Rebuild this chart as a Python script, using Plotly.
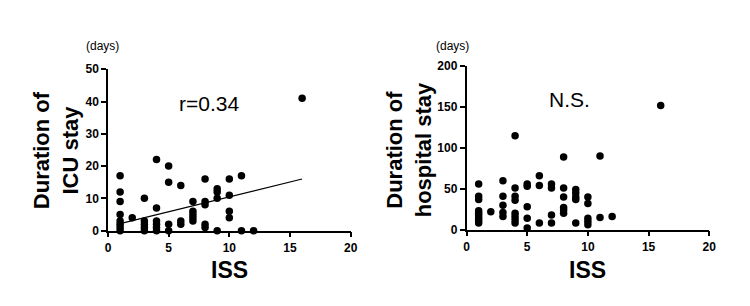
import plotly.graph_objects as go

# ICU stay (left panel)
icu_iss = [1, 1, 1, 1, 1, 1, 1, 1,
           2,
           3, 3, 3, 3, 3,
           4, 4, 4, 4, 4, 4,
           5, 5, 5, 5,
           6, 6, 6,
           7, 7, 7, 7, 7,
           8, 8, 8, 8, 8,
           9, 9, 9, 9,
           10, 10, 10, 10,
           11, 11,
           12,
           16]
icu_days = [17, 12, 9, 5, 3, 2, 1, 0,
            4,
            10, 3, 2, 1, 0,
            22, 7, 3, 2, 1, 0,
            20, 15, 2, 0,
            14, 3, 2,
            9, 6, 5, 4, 3,
            16, 9, 8, 2, 1,
            13, 12, 10, 0,
            16, 11, 6, 4,
            17, 0,
            0,
            41]
fit_x = [1, 16]
fit_y = [2.2, 16.0]

# Hospital stay (right panel)
hosp_iss = [1, 1, 1, 1, 1, 1, 1, 1, 1,
            2,
            3, 3, 3, 3, 3,
            4, 4, 4, 4, 4, 4, 4, 4,
            5, 5, 5, 5, 5,
            6, 6, 6,
            7, 7, 7, 7,
            8, 8, 8, 8, 8, 8,
            9, 9, 9, 9, 9,
            10, 10, 10, 10, 10,
            11, 11,
            12,
            16]
hosp_days = [56, 41, 37, 23, 20, 17, 14, 11, 8,
             22,
             60, 41, 30, 21, 16,
             115, 51, 41, 36, 20, 16, 12, 8,
             56, 53, 28, 14, 2,
             66, 54, 8,
             56, 51, 18, 8,
             89, 51, 40, 27, 24, 20,
             49, 45, 40, 37, 8,
             40, 32, 14, 10, 6,
             90, 15,
             16,
             152]

x_ticks = [0, 5, 10, 15, 20]
icu_ticks = [0, 10, 20, 30, 40, 50]
hosp_ticks = [0, 50, 100, 150, 200]

FONT = "Liberation Sans, Arial, sans-serif"

W, H = 750, 306
# empirical page-to-figure calibration
X0, XS = 8.5, 744.0
Y0, YS = 14.6, 293.0


def pxx(x):
    return (x - X0) / XS


def pxy(y):
    return 1 - (y - Y0) / YS


def bold(vals):
    return ["<b>%s</b>" % v for v in vals]


fig = go.Figure()
mk = dict(color="black", size=7.5)
fig.add_trace(go.Scatter(x=icu_iss, y=icu_days, mode="markers", marker=mk,
                         xaxis="x", yaxis="y", cliponaxis=False))
fig.add_trace(go.Scatter(x=fit_x, y=fit_y, mode="lines",
                         line=dict(color="black", width=1.2),
                         xaxis="x", yaxis="y"))
fig.add_trace(go.Scatter(x=hosp_iss, y=hosp_days, mode="markers", marker=mk,
                         xaxis="x2", yaxis="y2", cliponaxis=False))

ax_common = dict(showgrid=False, zeroline=False, showline=True, linecolor="black",
                 linewidth=1.5, ticks="outside", ticklen=5, tickwidth=1.5,
                 tickcolor="black",
                 tickfont=dict(family=FONT, size=12, color="black"))

ydom_l = [pxy(231), pxy(69)]
ydom_r = [pxy(230), pxy(66)]
fig.update_layout(
    width=W, height=H,
    margin=dict(l=0, r=0, t=0, b=0),
    paper_bgcolor="white", plot_bgcolor="white",
    showlegend=False,
    xaxis=dict(domain=[pxx(106), pxx(350)], range=[0, 20], tickvals=x_ticks,
               ticktext=bold(x_ticks), anchor="y", **ax_common),
    yaxis=dict(domain=ydom_l, range=[0, 50], tickvals=icu_ticks,
               ticktext=bold(icu_ticks), anchor="x", **ax_common),
    xaxis2=dict(domain=[pxx(466.5), pxx(710.5)], range=[0, 20], tickvals=x_ticks,
                ticktext=bold(x_ticks), anchor="y2", **ax_common),
    yaxis2=dict(domain=ydom_r, range=[0, 200], tickvals=hosp_ticks,
                ticktext=bold(hosp_ticks), anchor="x2", **ax_common),
)


def ann(text, x, y, size, angle=0):
    fig.add_annotation(text=text, x=pxx(x), y=pxy(y), xref="paper", yref="paper",
                       showarrow=False, textangle=angle,
                       font=dict(family=FONT, size=size, color="black"),
                       xanchor="center", yanchor="middle")


ann("(days)", 100, 46, 12)
ann("(days)", 452, 46, 12)
ann("<b>Duration of<br>ICU stay</b>", 54, 150, 22, angle=-90)
ann("<b>Duration of<br>hospital stay</b>", 409, 150, 22, angle=-90)
ann("<b>ISS</b>", 228, 270, 23)
ann("<b>ISS</b>", 588, 270, 23)
ann("r=0.34", 208, 103, 21)
ann("N.S.", 570, 99, 21)

fig.write_html("out.html")
